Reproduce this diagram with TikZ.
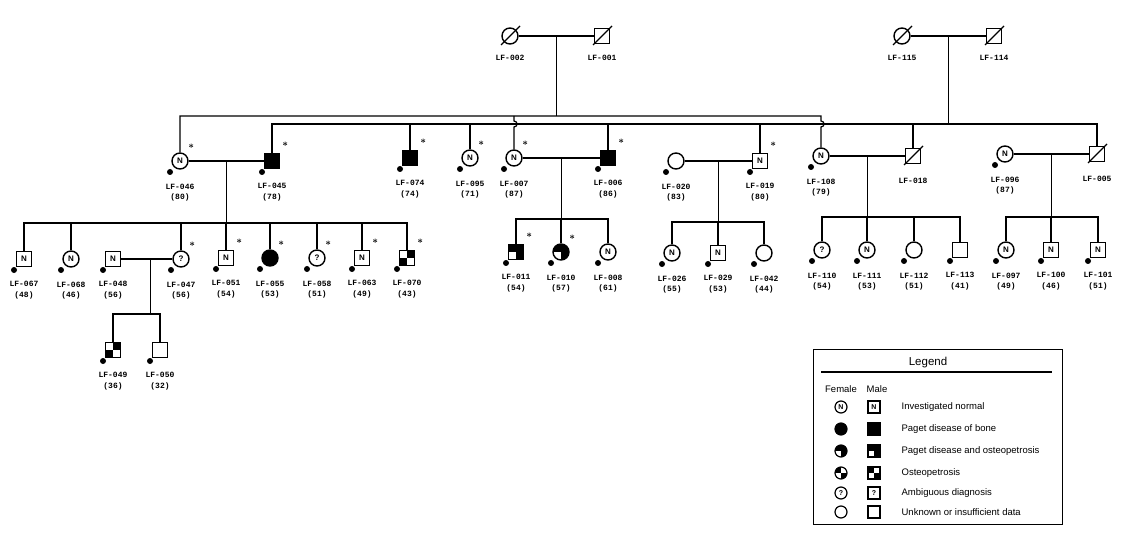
\documentclass[tikz,border=0pt]{standalone}
\usepackage{fontspec}
\setsansfont{Liberation Sans}
\setmonofont{Liberation Mono}
\usetikzlibrary{positioning,calc}

\begin{document}
\begin{tikzpicture}[x=1pt,y=-1pt,line width=1.2pt,
  person/.style={draw,line width=1.4pt,inner sep=0pt,font=\sffamily\bfseries\fontsize{8}{8}\selectfont,node contents={}},
  fem/.style={person,circle,minimum size=16pt},
  mal/.style={person,rectangle,minimum size=15pt},
  femE/.style={fem}, malE/.style={mal},
  femN/.style={fem,node contents=N}, malN/.style={mal,node contents=N},
  femQ/.style={fem,node contents=?}, malQ/.style={mal,node contents=?},
  femP/.style={fem,fill=black}, malP/.style={mal,fill=black},
  pagost/.style={path picture={
    \fill (path picture bounding box.south west) rectangle (path picture bounding box.north east);
    \fill[white] (path picture bounding box.south west) rectangle (path picture bounding box.center);}},
  osteo/.style={path picture={
    \fill (path picture bounding box.north west) rectangle (path picture bounding box.center);
    \fill (path picture bounding box.center) rectangle (path picture bounding box.south east);}},
  osteox/.style={path picture={
    \fill (path picture bounding box.south west) rectangle (path picture bounding box.center);
    \fill (path picture bounding box.center) rectangle (path picture bounding box.north east);}},
  femPO/.style={fem,pagost}, malPO/.style={mal,pagost},
  femO/.style={fem,osteo}, malO/.style={mal,osteo}, malOx/.style={mal,osteox},
  idlab/.style={font=\ttfamily\bfseries\fontsize{8}{10.5}\selectfont,align=center,inner sep=0pt},
  ast/.style={anchor=south west,inner sep=0pt,xshift=1.5pt,yshift=3pt,font=\bfseries\fontsize{10}{10}\selectfont},
  leg/.style={minimum size=12pt,line width=1.2pt,font=\sffamily\bfseries\fontsize{7}{7}\selectfont},
  legtxt/.style={font=\sffamily\fontsize{9.5}{11}\selectfont,inner sep=0pt}]
  \useasboundingbox (0,0) rectangle (1122,540);

  % Deceased
  \foreach \id/\x/\y/\kind/\d in {002/510/36/fem/10pt,001/602/36/mal/10pt,115/902/36/fem/10pt,
      114/994/36/mal/10pt,018/913/156/mal/13.5pt,005/1097/154/mal/13.5pt}{
    \node (p\id) at (\x,\y) [\kind];
    \draw ($(p\id)+(-9,9)$) -- ($(p\id)+(10,-10)$);
    \node[idlab,below=\d of p\id] (l\id) {LF-\id};
  }
  % Generasjon II
  \foreach \id/\x/\y/\kind/\age in {046/180/161/femN/80,045/272/161/malP/78,074/410/158/malP/74,
      095/470/158/femN/71,007/514/158/femN/87,006/608/158/malP/86,020/676/161/femE/83,
      019/760/161/malN/80,108/821/156/femN/79,096/1005/154/femN/87}{
    \node (p\id) at (\x,\y) [\kind];
    \fill ($(p\id)+(-10,11)$) circle (3);
    \node[idlab,below=13.5pt of p\id] (l\id) {LF-\id\\(\age)};
  }
  % Generasjon III og IV
  \foreach \id/\x/\y/\kind/\age in {067/24/259/malN/48,068/71/259/femN/46,048/113/259/malN/56,
      047/181/259/femQ/56,051/226/258/malN/54,055/270/258/femP/53,058/317/258/femQ/51,
      063/362/258/malN/49,070/407/258/malOx/43,049/113/350/malOx/36,050/160/350/malE/32,
      011/516/252/malPO/54,010/561/252/femPO/57,008/608/252/femN/61,026/672/253/femN/55,
      029/718/253/malN/53,042/764/253/femE/44,110/822/250/femQ/54,111/867/250/femN/53,
      112/914/250/femE/51,113/960/250/malE/41,097/1006/250/femN/49,100/1051/250/malN/46,
      101/1098/250/malN/51}{
    \node (p\id) at (\x,\y) [\kind];
    \fill ($(p\id)+(-10,11)$) circle (3);
    \node[idlab,below=13.5pt of p\id] (l\id) {LF-\id\\(\age)};
  }
  % Stjerner
  \foreach \id in {046,045,074,095,007,006,019,047,051,055,058,063,070,011,010}
    \node[ast] (a\id) at (p\id.north east) {*};

  % Ekteskap
  \draw (p002) -- coordinate (m002) (p001);
  \draw (p115) -- coordinate (m115) (p114);
  \draw (p046) -- coordinate (m046) (p045);
  \draw (p007) -- coordinate (m007) (p006);
  \draw (p020) -- coordinate (m020) (p019);
  \draw (p108) -- coordinate (m108) (p018);
  \draw (p096) -- coordinate (m096) (p005);
  \draw (p048) -- coordinate[pos=0.58] (m048) (p047);

  % Soeskenlinjer II
  \coordinate (s002) at ($(m002)+(0,80)$);
  \coordinate (s115) at ($(m115)+(0,88)$);
  \draw (m002) -- (s002);
  \draw (m115) -- (s115);
  \draw (p046.north) |- (p108.north |- s002) -- ++(0,5) .. controls +(4,0) and +(4,0) .. ++(0,6) -- (p108.north);
  \draw (p007.north |- s002) -- ++(0,5) .. controls +(4,0) and +(4,0) .. ++(0,6) -- (p007.north);
  \draw (p045.north) |- (p005.north |- s115) -- (p005.north);
  \foreach \id in {074,095,006,019,018} \draw (p\id.north |- s115) -- (p\id.north);

  % Soeskenlinjer III og IV
  \coordinate (s046) at ($(m046)+(0,62)$);
  \coordinate (s007) at ($(m007)+(0,61)$);
  \coordinate (s020) at ($(m020)+(0,61)$);
  \coordinate (s108) at ($(m108)+(0,61)$);
  \coordinate (s096) at ($(m096)+(0,63)$);
  \coordinate (s048) at ($(m048)+(0,55)$);
  \foreach \m/\a/\b in {046/067/070,007/011/008,020/026/042,108/110/113,096/097/101,048/049/050}{
    \draw (m\m) -- (s\m);
    \draw (p\a.north) |- (s\m) -| (p\b.north);
  }
  \foreach \id/\m in {068/046,047/046,051/046,055/046,058/046,063/046,010/007,029/020,111/108,112/108,100/096}
    \draw (p\id.north |- s\m) -- (p\id.north);

  % Legend
  \node[draw,line width=1.3pt,minimum width=249pt,minimum height=175pt,anchor=north west,inner sep=0pt] (legbox) at (813,349) {};
  \node[legtxt,font=\sffamily\fontsize{11.5}{13}\selectfont] (legtitle) at (928,363) {Legend};
  \draw ($(legbox.north west)+(8,23)$) -- ($(legbox.north east)+(-11,23)$);
  \node[legtxt] (legfem) at (841,389) {Female};
  \node[legtxt] (legmal) at (877,389) {Male};
  \foreach \i/\y/\f/\m/\txt in {1/407/femN/malN/Investigated normal,2/429/femP/malP/Paget disease of bone,
      3/451/femPO/malPO/Paget disease and osteopetrosis,4/473/femO/malO/Osteopetrosis,
      5/493/femQ/malQ/Ambiguous diagnosis,6/512/femE/malE/Unknown or insufficient data}{
    \node (lf\i) at (841,\y) [\f,leg];
    \node (lm\i) at (874,\y) [\m,leg];
    \node[legtxt,anchor=west] (lt\i) at (901,\y) {\txt};
  }
\end{tikzpicture}
\end{document}
